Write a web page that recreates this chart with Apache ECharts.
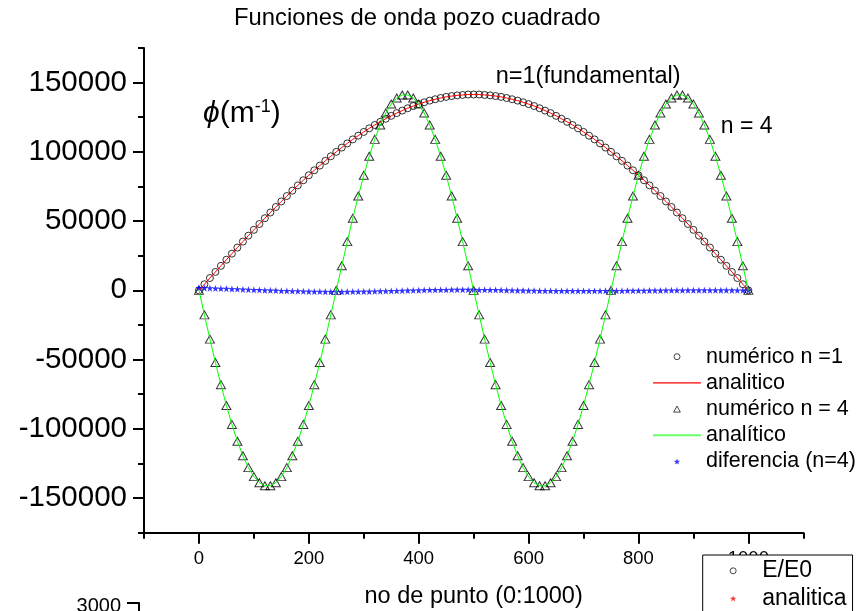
<!DOCTYPE html>
<html><head><meta charset="utf-8">
<script src="https://cdn.jsdelivr.net/npm/echarts@6/dist/echarts.min.js"></script>
<style>html,body{margin:0;padding:0;background:#fff}#c{width:862px;height:611px}</style>
</head><body><div id="c"></div>
<script>
// ---- data ----
const xPoints = [0,10,20,30,40,50,60,70,80,90,100,110,120,130,140,150,160,170,180,190,200,210,220,230,240,250,260,270,280,290,300,310,320,330,340,350,360,370,380,390,400,410,420,430,440,450,460,470,480,490,500,510,520,530,540,550,560,570,580,590,600,610,620,630,640,650,660,670,680,690,700,710,720,730,740,750,760,770,780,790,800,810,820,830,840,850,860,870,880,890,900,910,920,930,940,950,960,970,980,990,1000];
const numericN1 = [0,4400,8900,13300,17700,22100,26500,30900,35200,39500,43700,47900,52100,56200,60200,64200,68100,72000,75800,79500,83100,86700,90100,93500,96800,100000,103100,106100,109000,111700,114400,117000,119400,121700,123900,126000,128000,129800,131500,133100,134500,135800,137000,138000,138900,139700,140300,140800,141100,141400,141400,141400,141100,140800,140300,139700,138900,138000,137000,135800,134500,133100,131500,129800,128000,126000,123900,121700,119400,117000,114400,111700,109000,106100,103100,100000,96800,93500,90100,86700,83100,79500,75800,72000,68100,64200,60200,56200,52100,47900,43700,39500,35200,30900,26500,22100,17700,13300,8900,4400,0];
const analyticN1 = numericN1;
const numericN4 = [0,-17700,-35200,-52100,-68100,-83100,-96800,-109000,-119400,-128000,-134500,-138900,-141100,-141100,-138900,-134500,-128000,-119400,-109000,-96800,-83100,-68100,-52100,-35200,-17700,0,17700,35200,52100,68100,83100,96800,109000,119400,128000,134500,138900,141100,141100,138900,134500,128000,119400,109000,96800,83100,68100,52100,35200,17700,0,-17700,-35200,-52100,-68100,-83100,-96800,-109000,-119400,-128000,-134500,-138900,-141100,-141100,-138900,-134500,-128000,-119400,-109000,-96800,-83100,-68100,-52100,-35200,-17700,0,17700,35200,52100,68100,83100,96800,109000,119400,128000,134500,138900,141100,141100,138900,134500,128000,119400,109000,96800,83100,68100,52100,35200,17700,0];
const analyticN4 = numericN4;
const differenceN4 = [1800,1700,1600,1400,1300,1200,1000,900,700,600,400,300,100,0,-100,-300,-400,-500,-600,-700,-800,-900,-900,-1000,-1000,-1000,-1000,-1000,-900,-900,-800,-800,-700,-600,-500,-400,-300,-200,-100,0,100,200,300,300,400,400,500,500,500,500,500,400,400,300,300,200,100,0,-100,-100,-200,-200,-300,-300,-300,-400,-400,-400,-400,-400,-400,-400,-400,-400,-300,-300,-300,-300,-200,-200,-200,-200,-100,-100,-100,0,0,0,0,100,100,100,100,100,100,100,100,100,0,0,0];
const insetEE0 = [];
const insetAnalitica = [];
const xTickLabels = [0,200,400,600,800,1000];
const yTickLabels = [-150000,-100000,-50000,0,50000,100000,150000];
const insetYTickLabels = [3000];

// ---- build ----
const FONT = '"Liberation Sans", Arial, Helvetica, sans-serif';
const STAR = 'path://M0,-10L2.35,-3.24L9.51,-3.09L3.8,1.24L5.88,8.09L0,4L-5.88,8.09L-3.8,1.24L-9.51,-3.09L-2.35,-3.24Z';
const TRI = 'path://M0,-10L10,8L-10,8Z';
const LINEICON = 'path://M0,0L48,0L48,1.2L0,1.2Z';
const LINEICON2 = 'path://M0,0L48,0L48,2L0,2Z';
const pairs = (xs, ys) => xs.map((x, i) => [x, ys[i]]);
const black = {color:'#000', width:2};
const plain = v => String(v);
const hollow = {color:'rgba(255,255,255,0)', borderColor:'#000', borderWidth:1};

const chart = echarts.init(document.getElementById('c'), null, {renderer:'canvas'});
chart.setOption({
  animation:false,
  backgroundColor:'#fff',
  title:{text:'Funciones de onda pozo cuadrado', left:234, top:6, padding:0,
    textStyle:{fontSize:23.8, fontWeight:'normal', color:'#000', fontFamily:FONT}},
  grid:[
    {left:144, top:48, width:659.3, height:484.7, containLabel:false, outerBoundsMode:'none'},
    {left:139, top:603, width:600, height:400, containLabel:false, outerBoundsMode:'none'}
  ],
  xAxis:[
    {gridIndex:0, type:'value', min:-100, max:1100, position:'bottom',
      axisLine:{show:true, onZero:false, lineStyle:black},
      axisTick:{show:true, customValues:xTickLabels, length:11, lineStyle:black},
      axisLabel:{customValues:xTickLabels, formatter:plain, margin:16.5, fontSize:18.5, color:'#000', fontFamily:FONT},
      splitLine:{show:false},
      name:'no de punto (0:1000)', nameLocation:'middle', nameGap:52,
      nameTextStyle:{fontSize:23.5, color:'#000', fontFamily:FONT}},
    {gridIndex:0, type:'value', min:-100, max:1100, interval:100, position:'bottom', offset:0,
      axisLine:{show:false, onZero:false}, axisTick:{show:true, length:6, lineStyle:black},
      axisLabel:{show:false}, splitLine:{show:false}},
    {gridIndex:1, type:'value', min:0, max:1000, show:false}
  ],
  yAxis:[
    {gridIndex:0, type:'value', min:-175000, max:175000, position:'left',
      axisLine:{show:true, onZero:false, lineStyle:black},
      axisTick:{show:true, customValues:yTickLabels, length:11, lineStyle:black},
      axisLabel:{customValues:yTickLabels, formatter:plain, margin:17, fontSize:29.5, color:'#000', fontFamily:FONT},
      splitLine:{show:false}},
    {gridIndex:0, type:'value', min:-175000, max:175000, interval:25000, position:'left', offset:0,
      axisLine:{show:false, onZero:false}, axisTick:{show:true, length:6, lineStyle:black},
      axisLabel:{show:false}, splitLine:{show:false}},
    {gridIndex:1, type:'value', min:0, max:3000, position:'left',
      axisLine:{show:true, onZero:false, lineStyle:black},
      axisTick:{show:true, customValues:insetYTickLabels, length:12, lineStyle:black},
      axisLabel:{customValues:insetYTickLabels, formatter:plain, margin:18, fontSize:20, color:'#000', fontFamily:FONT,
        verticalAlign:'top', lineHeight:7},
      splitLine:{show:false}}
  ],
  legend:[
    {data:[
        {name:'numérico n =1', icon:'circle', itemStyle:{color:'#fff', borderColor:'#000', borderWidth:0.9}},
        {name:'analitico', icon:LINEICON, itemStyle:{color:'#ff0000', borderWidth:0}},
        {name:'numérico n = 4', icon:TRI, itemStyle:{color:'#fff', borderColor:'#000', borderWidth:0.9}},
        {name:'analítico', icon:LINEICON2, itemStyle:{color:'#66ff66', borderWidth:0}},
        {name:'diferencia (n=4)', icon:STAR, itemStyle:{color:'#0000ff', borderWidth:0}}],
      orient:'vertical', left:653, top:343.6, height:200, padding:0, itemGap:0, itemWidth:48, itemHeight:6,
      selectedMode:false, textStyle:{fontSize:21.5, lineHeight:26.2, color:'#000', fontFamily:FONT}},
    {data:[
        {name:'E/E0', icon:'circle', itemStyle:{color:'#fff', borderColor:'#000', borderWidth:0.9}},
        {name:'analitica', icon:STAR, itemStyle:{color:'#ff0000', borderWidth:0}}],
      orient:'vertical', left:702.7, top:555, height:120, padding:[2,6,10,27],
      itemGap:0, itemWidth:48, itemHeight:6, selectedMode:false,
      backgroundColor:'#fff', borderColor:'#000', borderWidth:1,
      textStyle:{fontSize:23, lineHeight:27.6, color:'#000', fontFamily:FONT}}
  ],
  graphic:[
    {type:'text', x:203, y:113.5, style:{
      text:'{p|ϕ}{a|(m}{s|-1}{a|)}', verticalAlign:'middle',
      rich:{p:{fontSize:30, fontStyle:'italic', fontFamily:FONT, fill:'#000'},
            a:{fontSize:30, fontFamily:FONT, fill:'#000'},
            s:{fontSize:18, fontFamily:FONT, fill:'#000', verticalAlign:'top'}}}},
    {type:'text', x:495.7, y:76.5, style:{text:'n=1(fundamental)', fontSize:23.5, fontFamily:FONT, fill:'#000', verticalAlign:'middle'}},
    {type:'text', x:720.7, y:127, style:{text:'n = 4', fontSize:23, fontFamily:FONT, fill:'#000', verticalAlign:'middle'}}
  ],
  series:[
    {name:'numérico n =1', type:'scatter', xAxisIndex:0, yAxisIndex:0, data:pairs(xPoints, numericN1),
      symbol:'circle', symbolSize:7, itemStyle:hollow},
    {name:'analitico', type:'line', xAxisIndex:0, yAxisIndex:0, data:pairs(xPoints, analyticN1),
      symbol:'none', lineStyle:{color:'#ff0000', width:1}, itemStyle:{color:'#ff0000'}},
    {name:'numérico n = 4', type:'scatter', xAxisIndex:0, yAxisIndex:0, data:pairs(xPoints, numericN4),
      symbol:'triangle', symbolSize:[9,8], itemStyle:hollow},
    {name:'analítico', type:'line', xAxisIndex:0, yAxisIndex:0, data:pairs(xPoints, analyticN4),
      symbol:'none', lineStyle:{color:'#00ff00', width:1}, itemStyle:{color:'#00ff00'}},
    {name:'diferencia (n=4)', type:'scatter', xAxisIndex:0, yAxisIndex:0, data:pairs(xPoints, differenceN4),
      symbol:STAR, symbolSize:7, itemStyle:{color:'#0000ff'}},
    {name:'E/E0', type:'scatter', xAxisIndex:2, yAxisIndex:2, data:insetEE0,
      symbol:'circle', symbolSize:6, itemStyle:hollow},
    {name:'analitica', type:'scatter', xAxisIndex:2, yAxisIndex:2, data:insetAnalitica,
      symbol:STAR, symbolSize:6, itemStyle:{color:'#ff0000'}}
  ]
});
</script></body></html>
